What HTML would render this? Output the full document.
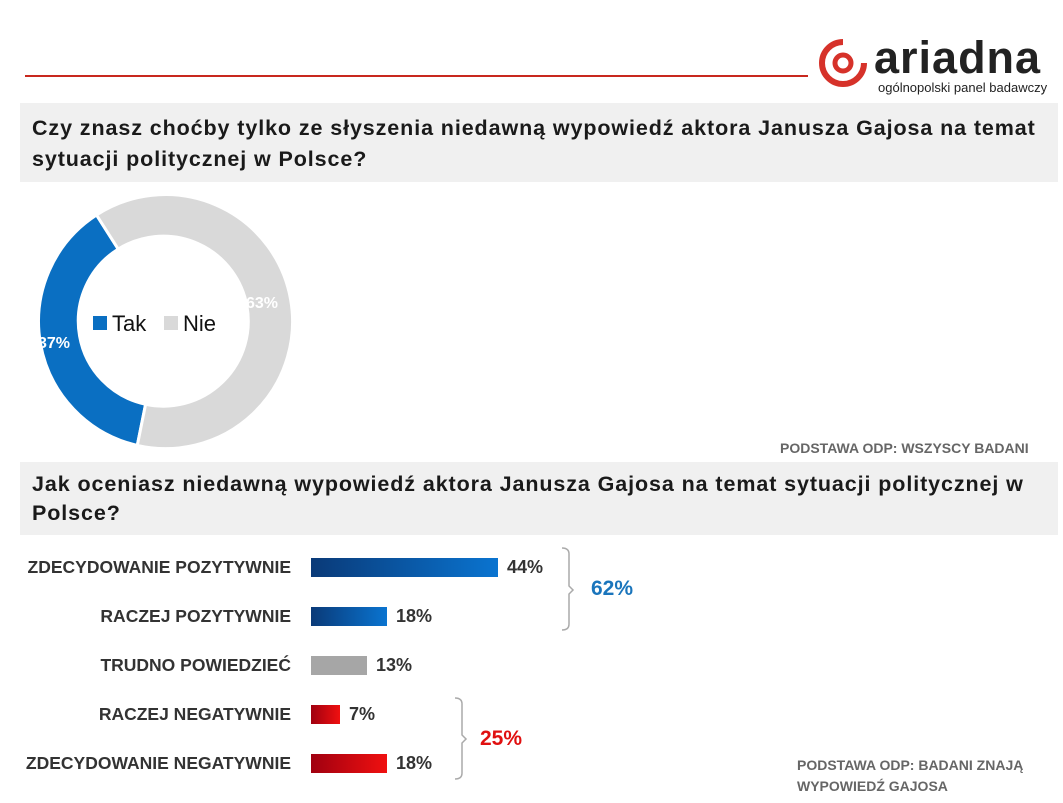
<!DOCTYPE html>
<html><head><meta charset="utf-8"><style>
body{margin:0;width:1063px;height:803px;background:#fff;font-family:"Liberation Sans","DejaVu Sans",sans-serif;position:relative;overflow:hidden}
.a{position:absolute}
.hd{position:absolute;left:20px;width:1038px;background:#f0f0f0;font-weight:bold;font-size:21.5px;color:#1a1a1a;line-height:31px;padding:10px 12px;box-sizing:border-box;white-space:nowrap;letter-spacing:0.9px}
.lab{position:absolute;right:772px;font-weight:bold;font-size:17.5px;color:#333;white-space:nowrap}
.val{position:absolute;font-weight:bold;font-size:18px;color:#333}
.bar{position:absolute;left:311px;height:19px}
.b{background:linear-gradient(90deg,#0a3a78,#0a74d0)}
.r{background:linear-gradient(90deg,#a00010,#f01010)}
.note{position:absolute;font-weight:bold;font-size:14px;color:#666}
</style></head><body>
<div class="a" style="left:25px;top:75px;width:783px;height:2px;background:#c8281e"></div>
<svg class="a" style="left:818px;top:38px" width="50" height="50" viewBox="0 0 50 50">
<path d="M25 4 A21 21 0 1 0 46 25" fill="none" stroke="#d6322a" stroke-width="6"/>
<circle cx="25" cy="25" r="8" fill="none" stroke="#d6322a" stroke-width="5"/>
</svg>
<div class="a" style="left:874px;top:32px;font-size:45px;font-weight:bold;color:#222;letter-spacing:1px">ariadna</div>
<div class="a" style="left:878px;top:80px;font-size:13px;color:#222">ogólnopolski panel badawczy</div>
<div class="hd" style="top:103px;height:79px">Czy znasz choćby tylko ze słyszenia niedawną wypowiedź aktora Janusza Gajosa na temat<br>sytuacji politycznej w Polsce?</div>
<svg class="a" style="left:0;top:0" width="700" height="800">
<path d="M137.3 445.4 A127 127 0 0 1 96.5 215.0 L118.2 249.1 A85 85 0 0 0 145.6 404.3 Z" fill="#0a6fc2" stroke="#fff" stroke-width="3"/>
<path d="M96.5 215.0 A127 127 0 1 1 137.3 445.4 L145.6 404.3 A85 85 0 1 0 118.2 249.1 Z" fill="#d9d9d9" stroke="#fff" stroke-width="3"/>
<text x="38" y="348" font-family="Liberation Sans" font-weight="bold" font-size="16" fill="#fff">37%</text>
<text x="246" y="308" font-family="Liberation Sans" font-weight="bold" font-size="16" fill="#fff">63%</text>
<rect x="93" y="316" width="14" height="14" fill="#0a6fc2"/>
<text x="112" y="331" font-family="Liberation Sans" font-size="22" fill="#111">Tak</text>
<rect x="164" y="316" width="14" height="14" fill="#d9d9d9"/>
<text x="183" y="331" font-family="Liberation Sans" font-size="22" fill="#111">Nie</text>
<path d="M562 548 Q569 548 569 554 L569 586 L573 590 L569 594 L569 624 Q569 630 562 630" fill="none" stroke="#aaa" stroke-width="1.5"/>
<path d="M455 698 Q462 698 462 704 L462 735 L466 739 L462 743 L462 773 Q462 779 455 779" fill="none" stroke="#aaa" stroke-width="1.5"/>
</svg>
<div class="note" style="left:780px;top:440px">PODSTAWA ODP: WSZYSCY BADANI</div>
<div class="hd" style="top:462px;height:73px;line-height:29px;padding-top:8px">Jak oceniasz niedawną wypowiedź aktora Janusza Gajosa na temat sytuacji politycznej w<br>Polsce?</div>
<div class="lab" style="top:557px">ZDECYDOWANIE POZYTYWNIE</div>
<div class="lab" style="top:606px">RACZEJ POZYTYWNIE</div>
<div class="lab" style="top:655px">TRUDNO POWIEDZIEĆ</div>
<div class="lab" style="top:704px">RACZEJ NEGATYWNIE</div>
<div class="lab" style="top:753px">ZDECYDOWANIE NEGATYWNIE</div>
<div class="bar b" style="top:558px;width:187px"></div>
<div class="bar b" style="top:607px;width:76px"></div>
<div class="bar" style="top:656px;width:56px;background:#a6a6a6"></div>
<div class="bar r" style="top:705px;width:29px"></div>
<div class="bar r" style="top:754px;width:76px"></div>
<div class="val" style="left:507px;top:557px">44%</div>
<div class="val" style="left:396px;top:606px">18%</div>
<div class="val" style="left:376px;top:655px">13%</div>
<div class="val" style="left:349px;top:704px">7%</div>
<div class="val" style="left:396px;top:753px">18%</div>
<div class="a" style="left:591px;top:577px;font-weight:bold;font-size:21px;color:#1a75bc">62%</div>
<div class="a" style="left:480px;top:727px;font-weight:bold;font-size:21px;color:#e01010">25%</div>
<div class="note" style="left:797px;top:755px;line-height:21px">PODSTAWA ODP: BADANI ZNAJĄ<br>WYPOWIEDŹ GAJOSA</div>
</body></html>
